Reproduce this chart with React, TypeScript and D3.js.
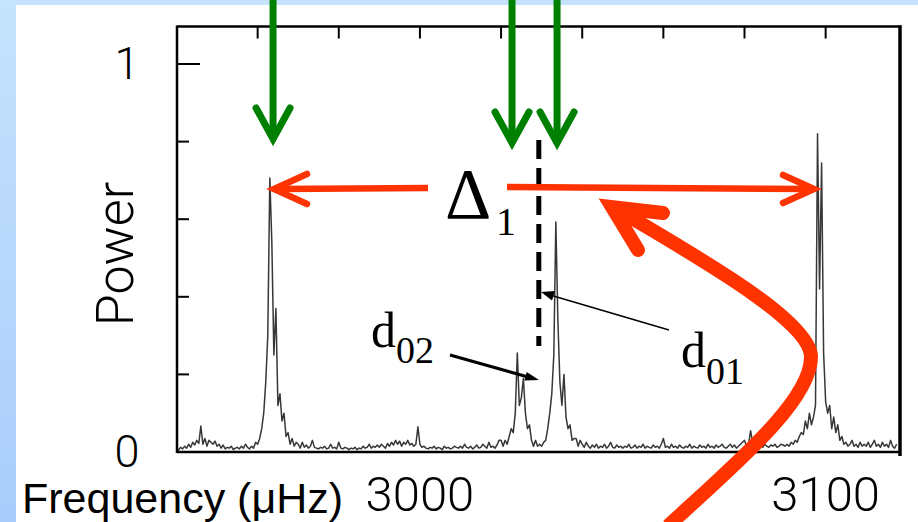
import React from "react";
import * as d3 from "d3";

const W = 918;
const H = 522;

const freqStart = 2940;
const freqStep = 0.5;
const power: number[] = [
  // 2940 - 2949.5
  0.01, 0.005, 0.012, 0.008, 0.015, 0.01, 0.02, 0.012, 0.025, 0.018, 0.03, 0.022, 0.067, 0.02, 0.035, 0.015, 0.03, 0.025, 0.02, 0.028,
  // 2950 - 2959.5
  0.015, 0.02, 0.01, 0.018, 0.008, 0.012, 0.01, 0.015, 0.006, 0.01, 0.012, 0.008, 0.015, 0.01, 0.02, 0.012, 0.008, 0.015, 0.01, 0.025,
  // 2960 - 2969.5
  0.02, 0.035, 0.06, 0.1, 0.18, 0.3, 0.706, 0.54, 0.25, 0.37, 0.12, 0.15, 0.08, 0.1, 0.04, 0.05, 0.02, 0.035, 0.015, 0.025,
  // 2970 - 2979.5
  0.02, 0.01, 0.025, 0.012, 0.018, 0.01, 0.015, 0.03, 0.012, 0.01, 0.008, 0.012, 0.01, 0.015, 0.008, 0.01, 0.02, 0.01, 0.012, 0.008,
  // 2980 - 2989.5
  0.025, 0.01, 0.008, 0.012, 0.01, 0.006, 0.01, 0.008, 0.012, 0.006, 0.01, 0.008, 0.015, 0.01, 0.012, 0.02, 0.01, 0.015, 0.012, 0.018,
  // 2990 - 2999.5
  0.012, 0.02, 0.015, 0.01, 0.022, 0.015, 0.025, 0.018, 0.03, 0.02, 0.028, 0.015, 0.025, 0.02, 0.03, 0.018, 0.022, 0.015, 0.02, 0.065,
  // 3000 - 3009.5
  0.02, 0.012, 0.015, 0.01, 0.008, 0.012, 0.01, 0.015, 0.008, 0.012, 0.01, 0.006, 0.015, 0.01, 0.012, 0.008, 0.01, 0.015, 0.012, 0.01,
  // 3010 - 3019.5
  0.015, 0.01, 0.02, 0.012, 0.01, 0.015, 0.008, 0.012, 0.018, 0.01, 0.012, 0.02, 0.015, 0.01, 0.025, 0.012, 0.015, 0.01, 0.018, 0.03,
  // 3020 - 3029.5
  0.03, 0.015, 0.03, 0.02, 0.04, 0.06, 0.05, 0.1, 0.255, 0.12, 0.14, 0.19, 0.1, 0.06, 0.07, 0.03, 0.015, 0.03, 0.015, 0.02,
  // 3030 - 3039.5
  0.015, 0.025, 0.03, 0.06, 0.1, 0.15, 0.25, 0.593, 0.34, 0.18, 0.12, 0.2, 0.09, 0.06, 0.07, 0.03, 0.035, 0.035, 0.015, 0.03,
  // 3040 - 3049.5
  0.02, 0.012, 0.025, 0.015, 0.01, 0.018, 0.012, 0.02, 0.01, 0.015, 0.012, 0.02, 0.01, 0.015, 0.025, 0.012, 0.01, 0.018, 0.012, 0.015,
  // 3050 - 3059.5
  0.01, 0.015, 0.012, 0.02, 0.01, 0.012, 0.018, 0.01, 0.015, 0.012, 0.02, 0.01, 0.015, 0.012, 0.01, 0.018, 0.012, 0.015, 0.01, 0.02,
  // 3060 - 3069.5
  0.035, 0.012, 0.015, 0.01, 0.02, 0.012, 0.015, 0.01, 0.018, 0.012, 0.01, 0.015, 0.012, 0.02, 0.01, 0.015, 0.012, 0.01, 0.018, 0.012,
  // 3070 - 3079.5
  0.015, 0.01, 0.02, 0.012, 0.015, 0.01, 0.018, 0.012, 0.015, 0.02, 0.012, 0.01, 0.015, 0.02, 0.012, 0.018, 0.01, 0.015, 0.02, 0.025,
  // 3080 - 3089.5
  0.03, 0.015, 0.02, 0.055, 0.025, 0.04, 0.02, 0.015, 0.025, 0.012, 0.02, 0.015, 0.012, 0.018, 0.015, 0.02, 0.012, 0.015, 0.02, 0.018,
  // 3090 - 3099.5
  0.015, 0.02, 0.015, 0.025, 0.02, 0.03, 0.025, 0.04, 0.05, 0.045, 0.08, 0.06, 0.1, 0.07, 0.09, 0.12, 0.82, 0.42, 0.745, 0.255,
  // 3100 - 3109.5
  0.13, 0.1, 0.12, 0.06, 0.09, 0.05, 0.07, 0.03, 0.04, 0.02, 0.025, 0.015, 0.02, 0.03, 0.015, 0.02, 0.012, 0.025, 0.015, 0.02,
  // 3110 - 3117.5
  0.015, 0.025, 0.012, 0.02, 0.03, 0.015, 0.02, 0.012, 0.025, 0.015, 0.02, 0.012, 0.03, 0.015, 0.01, 0.02,
];

const xTopTicks = [2960, 2980, 3000, 3020, 3040, 3060, 3080, 3100];
const xTickLabels = [3000, 3100];
const yTicks = [0, 0.2, 0.4, 0.6, 0.8, 1];
const yTickLabels = [0, 1];
const yMajor = [0, 1];

// annotation anchors in data units
const greenArrowFreqs = [2963.8, 3022.7, 3033.8];
const dashedFreq = 3029.3;

const RED = "#ff3300";
const GREEN = "#008000";

function arrowHead(x1: number, y1: number, x2: number, y2: number, len: number, half: number) {
  const a = Math.atan2(y2 - y1, x2 - x1);
  const bx = x2 - len * Math.cos(a);
  const by = y2 - len * Math.sin(a);
  const px = -Math.sin(a) * half;
  const py = Math.cos(a) * half;
  return `M${x2},${y2}L${bx + px},${by + py}L${bx - px},${by - py}Z`;
}

export default function App() {
  const x = d3.scaleLinear().domain([2940, 3118.5]).range([176.5, 900.7]);
  const y = d3.scaleLinear().domain([0, 1]).range([452, 64]);

  const line = d3
    .line<number>()
    .x((_, i) => x(freqStart + i * freqStep))
    .y((d) => y(d));

  const frameL = 177;
  const frameR = 900;
  const frameT = 26.5;
  const frameB = 452;

  const sans = "'Liberation Sans', Arial, Helvetica, sans-serif";
  const light = "Roboto, 'Liberation Sans', Arial, sans-serif";
  const serif = "'Liberation Serif', 'Times New Roman', serif";

  // red curved arrow
  const curve = "M668,526 C740,460 811,400 811,357 C811,320 690,253 620,211";

  return (
    <svg width={W} height={H} style={{ position: "absolute", left: 0, top: 0, display: "block" }}>
      <defs>
        <linearGradient id="bg" x1="0" y1="0" x2="0" y2="1">
          <stop offset="0" stopColor="#c6e3fd" />
          <stop offset="1" stopColor="#a9cdfb" />
        </linearGradient>
      </defs>
      <rect x={0} y={0} width={W} height={H} fill="url(#bg)" />
      <rect x={16} y={5} width={W - 16} height={H - 5} fill="#ffffff" />

      {/* spectrum */}
      <path d={line(power) || ""} fill="none" stroke="#141414" strokeWidth={1.5} strokeOpacity={0.85} strokeLinejoin="round" />

      {/* frame */}
      <line x1={frameL} y1={frameT - 1} x2={frameL} y2={frameB + 1} stroke="#000" strokeWidth={2.5} />
      <line x1={frameL} y1={frameT} x2={frameR + 1.5} y2={frameT} stroke="#000" strokeWidth={2.5} />
      <line x1={frameR} y1={frameT - 1} x2={frameR} y2={frameB + 4} stroke="#000" strokeWidth={3.5} />
      <line x1={frameL} y1={frameB} x2={frameR} y2={frameB} stroke="#000" strokeWidth={2.4} />

      {/* top ticks */}
      {xTopTicks.map((t) => (
        <line key={"xt" + t} x1={x(t)} x2={x(t)} y1={frameT} y2={frameT + 12} stroke="#000" strokeWidth={2} />
      ))}
      {/* y ticks */}
      {yTicks.map((t) => (
        <line
          key={"yt" + t}
          x1={frameL}
          x2={frameL + (yMajor.includes(t) ? 23 : 12)}
          y1={y(t)}
          y2={y(t)}
          stroke="#000"
          strokeWidth={2}
        />
      ))}

      {/* tick labels */}
      {yTickLabels.map((t) => (
        <text
          key={"yl" + t}
          x={127}
          y={y(t) + 15}
          textAnchor="middle"
          fontFamily={light}
          fontWeight={300}
          fontSize={45}
          fill="#000"
        >
          {t}
        </text>
      ))}
      {xTickLabels.map((t) => (
        <text
          key={"xl" + t}
          x={x(t)}
          y={511}
          textAnchor="middle"
          fontFamily={light}
          fontWeight={300}
          fontSize={49}
          fill="#000"
        >
          {t}
        </text>
      ))}

      <text
        transform="translate(133,254) rotate(-90)"
        textAnchor="middle"
        fontFamily={light}
        fontWeight={300}
        fontSize={52}
        fill="#000"
      >
        Power
      </text>
      <text x={22} y={513} fontFamily={sans} fontSize={43} fill="#000">
        Frequency (μHz)
      </text>

      {/* green arrows */}
      {greenArrowFreqs.map((f, i) => {
        const gx = x(f);
        const tip = i === 0 ? 139 : 143;
        return (
          <g key={"g" + i} fill="none" stroke={GREEN} strokeWidth={7}>
            <line x1={gx} y1={-5} x2={gx} y2={tip - 4} />
            <path
              d={`M${gx - 17},${tip - 31} L${gx},${tip} L${gx + 17},${tip - 31}`}
              strokeLinecap="round"
              strokeLinejoin="miter"
            />
          </g>
        );
      })}

      {/* dashed vertical line */}
      <line x1={x(dashedFreq)} x2={x(dashedFreq)} y1={140} y2={346} stroke="#000" strokeWidth={5} strokeDasharray="19 9" />

      {/* red horizontal arrows (Delta_1) */}
      <g fill="none" stroke={RED} strokeWidth={6.5}>
        <line x1={428} y1={188} x2={278} y2={189} />
        <path d="M307,174 L274,189 L307,204" strokeLinecap="round" strokeLinejoin="miter" />
        <line x1={507} y1={187} x2={810} y2={189} />
        <path d="M783,175 L814,189 L783,203" strokeLinecap="round" strokeLinejoin="miter" />
      </g>

      {/* Delta label */}
      <text x={445} y={218} fontFamily={serif} fontSize={72} fill="#000">
        Δ
      </text>
      <text x={496} y={235} fontFamily={serif} fontSize={40} fill="#000">
        1
      </text>

      {/* d02 label and arrow */}
      <text x={371} y={347} fontFamily={serif} fontSize={50} fill="#000">
        d
      </text>
      <text x={396} y={363} fontFamily={serif} fontSize={38} fill="#000">
        02
      </text>
      <line x1={450} y1={355} x2={528} y2={377} stroke="#000" strokeWidth={3} />
      <path d={arrowHead(450, 355, 539, 380, 14, 4.5)} fill="#000" />

      {/* d01 label and arrow */}
      <text x={681} y={367} fontFamily={serif} fontSize={50} fill="#000">
        d
      </text>
      <text x={706} y={384} fontFamily={serif} fontSize={38} fill="#000">
        01
      </text>
      <line x1={669} y1={330} x2={550} y2={295} stroke="#000" strokeWidth={1.5} />
      <path d={arrowHead(669, 330, 541, 292, 13, 5)} fill="#000" />

      {/* big red curved arrow */}
      <g fill="none" stroke={RED} strokeWidth={14}>
        <path d={curve} />
        <path d="M663,213 L612,207 L638,250" strokeLinecap="round" strokeLinejoin="miter" />
      </g>
    </svg>
  );
}
